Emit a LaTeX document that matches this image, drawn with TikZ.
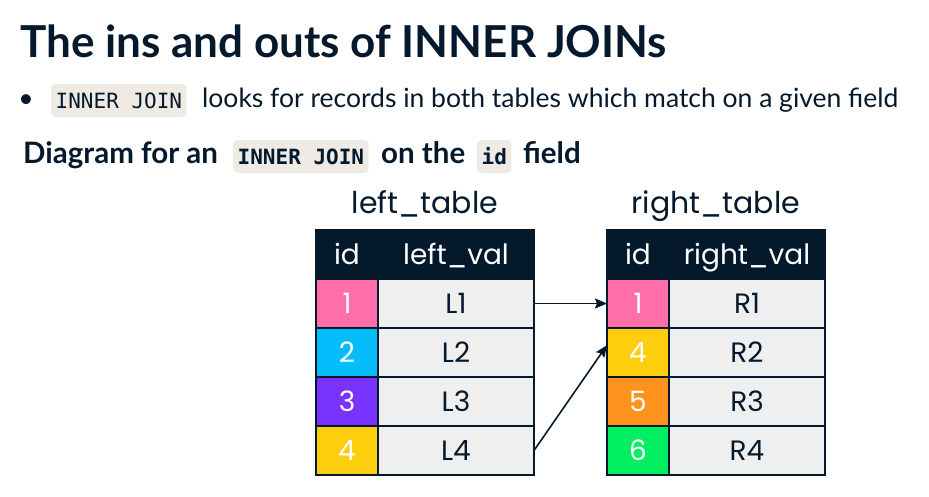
\documentclass[tikz,border=0pt]{standalone}
\usepackage{fontspec}
\setmainfont{Lato}
\setmonofont{DejaVu Sans Mono}
\newfontfamily\tabfont{Poppins}
\usetikzlibrary{positioning, arrows.meta, calc}
\definecolor{Navy}{HTML}{05192D}
\definecolor{IdPink}{HTML}{FF6EA9}
\definecolor{IdBlue}{HTML}{06BDFC}
\definecolor{IdPurple}{HTML}{7933FF}
\definecolor{IdYellow}{HTML}{FCCE0D}
\definecolor{IdOrange}{HTML}{FF931E}
\definecolor{IdGreen}{HTML}{03EF62}
\definecolor{CellGray}{HTML}{EFEFEF}
\definecolor{CodeBg}{HTML}{EFEBE4}

\begin{document}
\begin{tikzpicture}[x=1pt, y=-1pt,
    cell/.style={font=\tabfont\fontsize{28}{32}\selectfont, draw=Navy, line width=1.6pt,
      inner sep=0pt, outer sep=0pt, minimum height=49pt, text height=19pt, text depth=0pt,
      anchor=north west},
    headcell/.style={cell, fill=Navy, text=white},
    idcell/.style={cell, text=white, minimum width=62pt},
    valcell/.style={cell, fill=CellGray, text=Navy, minimum width=156pt},
    tabtitle/.style={font=\tabfont\fontsize{30}{34}\selectfont, text=Navy, anchor=base, inner sep=0pt},
    codebox/.style={fill=CodeBg, rounded corners=4pt, inner xsep=4.5pt, inner ysep=0pt,
      minimum height=33pt, text height=15pt, text depth=0pt, text=Navy, anchor=west,
      font=\ttfamily\fontsize{21}{25}\selectfont},
    bodytext/.style={inner sep=0pt, text=Navy, anchor=base west, font=\fontsize{26.5}{31}\selectfont},
    headtext/.style={bodytext, font=\bfseries\fontsize{29.5}{34}\selectfont},
    link/.style={draw=Navy, line width=1.6pt, -{Stealth[length=12pt, width=10pt, inset=2pt]}}
  ]
    \useasboundingbox (0,0) rectangle (929,496);

    % Title
    \node[bodytext, font=\bfseries\fontsize{44}{50}\selectfont] (title) at (20,57)
      {The ins and outs of INNER JOINs};

    % Bullet line
    \node[bodytext, anchor=base] (dot) at (26,107) {\textbullet};
    \node[codebox] (code1) at (51,100.5) {INNER JOIN};
    \node[bodytext] (bullet) at (202,107) {looks for records in both tables which match on a given field};

    % Diagram heading
    \node[headtext] (diag) at (23,163) {Diagram for an};
    \node[codebox, font=\ttfamily\bfseries\fontsize{21}{25}\selectfont] (code2) at (233,156.5) {INNER JOIN};
    \node[headtext] (onthe) at (381,163) {on the};
    \node[codebox, font=\ttfamily\bfseries\fontsize{21}{25}\selectfont] (code3) at (477,156.5) {id};
    \node[headtext] (field) at (523,163) {field};

    % Left table
    \node[headcell, minimum width=62pt] (lhid) at (316,230) {id};
    \node[headcell, minimum width=156pt] (lhval) at (lhid.north east) {left\_val};
    \node[tabtitle] (ltitle) at ($(lhid.north west)!.5!(lhval.north east) + (0,-17)$) {left\_table};
    \foreach \n/\c/\v [count=\i] in {1/IdPink/L1, 2/IdBlue/L2, 3/IdPurple/L3, 4/IdYellow/L4} {
      \node[idcell, fill=\c] (lid\i) at (316,{230+49*\i}) {\n};
      \node[valcell] (lval\i) at (lid\i.north east) {\v};
    }

    % Right table
    \node[headcell, minimum width=62pt] (rhid) at (607,230) {id};
    \node[headcell, minimum width=156pt] (rhval) at (rhid.north east) {right\_val};
    \node[tabtitle] (rtitle) at ($(rhid.north west)!.5!(rhval.north east) + (0,-17)$) {right\_table};
    \foreach \n/\c/\v [count=\i] in {1/IdPink/R1, 4/IdYellow/R2, 5/IdOrange/R3, 6/IdGreen/R4} {
      \node[idcell, fill=\c] (rid\i) at (607,{230+49*\i}) {\n};
      \node[valcell] (rval\i) at (rid\i.north east) {\v};
    }

    % Matches
    \draw[link] (lval1.east) -- (rid1.west);
    \draw[link] (lval4.east) -- ($(rid2.north west)!.35!(rid2.south west)$);
\end{tikzpicture}
\end{document}
